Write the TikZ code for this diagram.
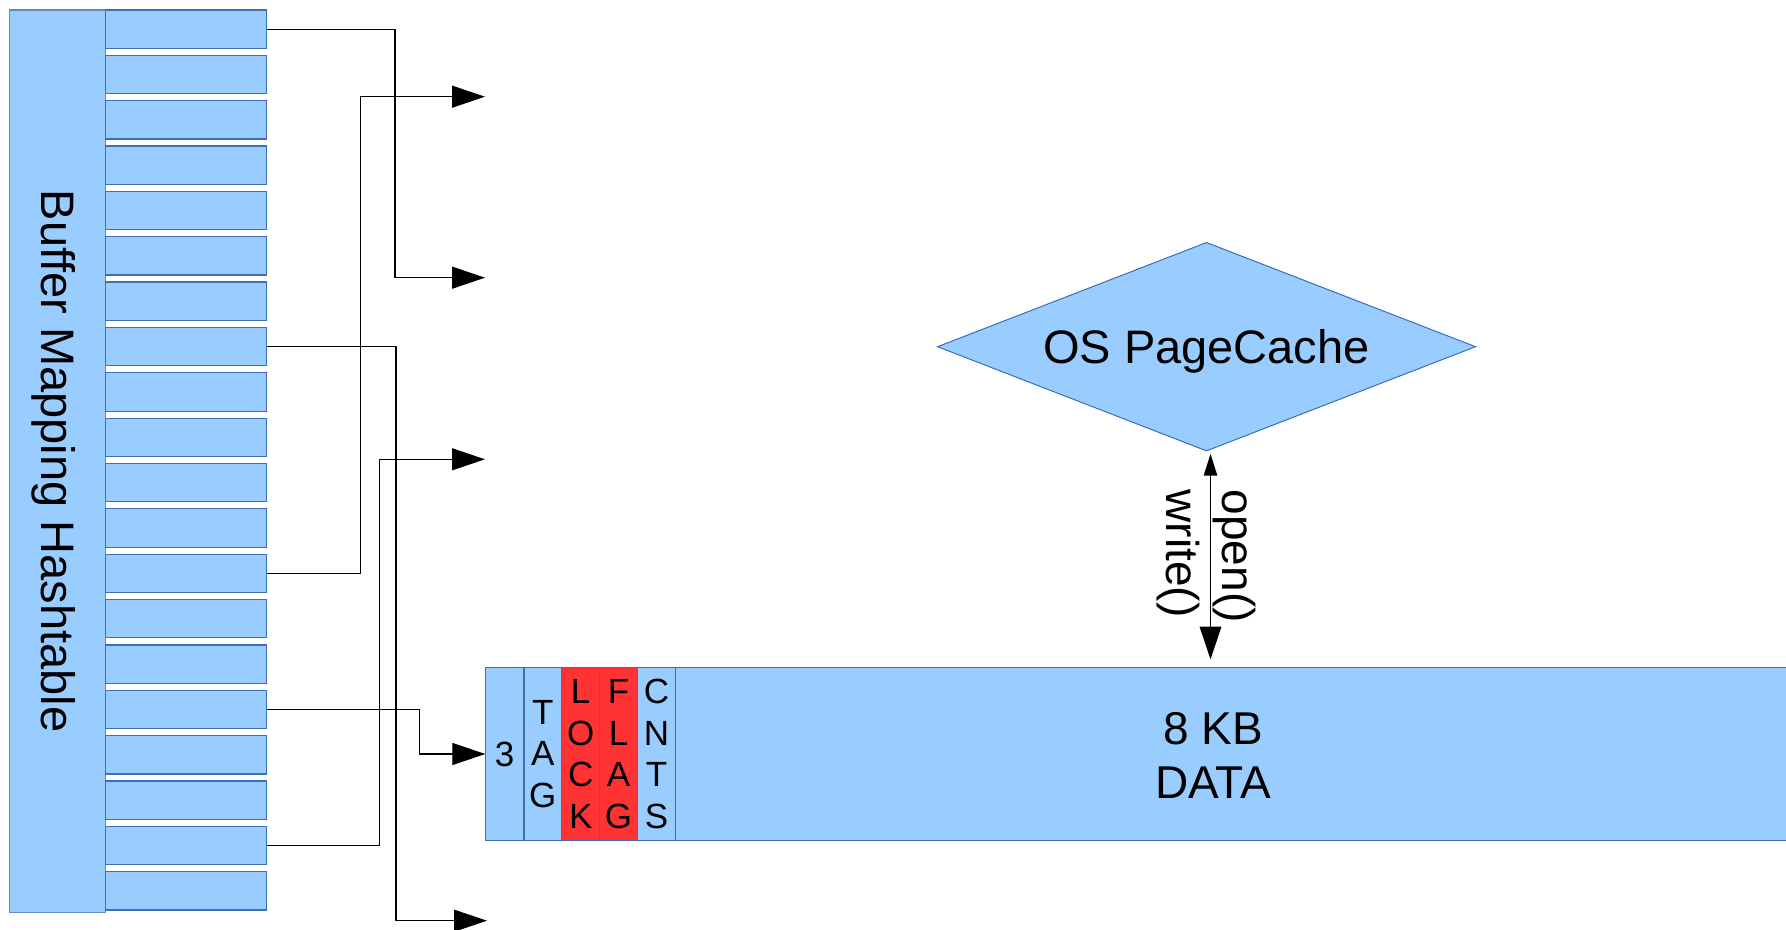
\documentclass[tikz,border=0pt]{standalone}
\usepackage{fontspec}
\setmainfont{Liberation Sans}
\usetikzlibrary{shapes.geometric,arrows.meta}
\definecolor{fillblue}{HTML}{99CCFF}
\definecolor{bordblue}{HTML}{3C6EB4}
\definecolor{lockred}{HTML}{FF3333}
\begin{document}
\begin{tikzpicture}[x=0.5pt,y=0.5pt,
  hbox/.style={draw=bordblue,fill=fillblue,line width=0.6pt,minimum width=80.5pt,minimum height=19.15pt,inner sep=0pt,outer sep=0pt,anchor=north west},
  barbox/.style={draw=bordblue!80,fill=fillblue,line width=0.6pt,minimum width=48.1pt,minimum height=451.35pt,inner sep=0pt,outer sep=0pt,anchor=north west},
  cell/.style={draw=bordblue,fill=fillblue,line width=0.6pt,minimum height=86.3pt,inner sep=0pt,outer sep=0pt,anchor=north west,align=center,font=\fontsize{17.5pt}{20.85pt}\selectfont},
  redcell/.style={cell,fill=lockred},
  conn/.style={line width=0.6pt,-{Triangle[length=16.5pt,width=11pt]}},
  dbl/.style={line width=0.6pt,{Triangle[length=10.85pt,width=6.7pt]}-{Triangle[length=16.35pt,width=10.85pt]}}
]
\useasboundingbox (0,0) rectangle (1786,-930);

% hashtable
\node[barbox] (bmh) at (9.5,-10) {};
\node[rotate=-90,inner sep=0pt,font=\fontsize{23.5pt}{28pt}\selectfont] (bmhtxt) at (54,-461) {Buffer Mapping Hashtable};
\foreach \i in {0,...,19}
  \node[hbox] (b\i) at (105.7,{-10-45.35*\i}) {};

% buffer
\node[cell,minimum width=19.35pt] (c3) at (485.3,-667.7) {3};
\node[cell,minimum width=18.85pt] (ctag) at (524,-667.7) {T\\A\\G};
\node[redcell,minimum width=19pt] (clock) at (561.7,-667.7) {L\\O\\C\\K};
\node[redcell,minimum width=18.8pt] (cflag) at (599.7,-667.7) {F\\L\\A\\G};
\node[cell,minimum width=19.2pt] (ccnts) at (637.3,-667.7) {C\\N\\T\\S};
\node[cell,minimum width=562pt] (data) at (675.7,-667.7) {};
\node[align=center,inner sep=0pt,font=\fontsize{23pt}{27pt}\selectfont] (datatxt) at (1213,-755) {8 KB\\DATA};

% OS page cache
\node[diamond,shape aspect=2.58,draw=bordblue,fill=fillblue,line width=0.5pt,minimum width=269.2pt,minimum height=104.35pt,inner sep=0pt,text depth=0pt,font=\fontsize{23.5pt}{28pt}\selectfont] (os) at (1206.5,-346.7) {OS PageCache};
\draw[dbl] ([xshift=2pt,yshift=-1.15pt]os.south) -- ([xshift=2pt,yshift=4.2pt]os.south |- data.north);
\node[rotate=-90,anchor=west,align=left,inner sep=0pt,font=\fontsize{23pt}{28pt}\selectfont] (lbl) at (1206.3,-489.3) {open()\\write()};

% free arrow ends
\coordinate (t1) at (485,-277.7);
\coordinate (t2) at (487,-920.7);
\coordinate (t3) at (485,-96.7);
\coordinate (t4) at (485,-459.3);

% connectors
\draw[conn] (b0.east) -- ++(128.3,0) |- (t1);
\draw[conn] (b7.east) -- ++(129.3,0) |- (t2);
\draw[conn] (b12.east) -- ++(93.6,0) |- (t3);
\draw[conn] (b15.east) -- ++(152.6,0) |- (c3.west);
\draw[conn] (b18.east) -- ++(112.6,0) |- (t4);
\end{tikzpicture}
\end{document}
